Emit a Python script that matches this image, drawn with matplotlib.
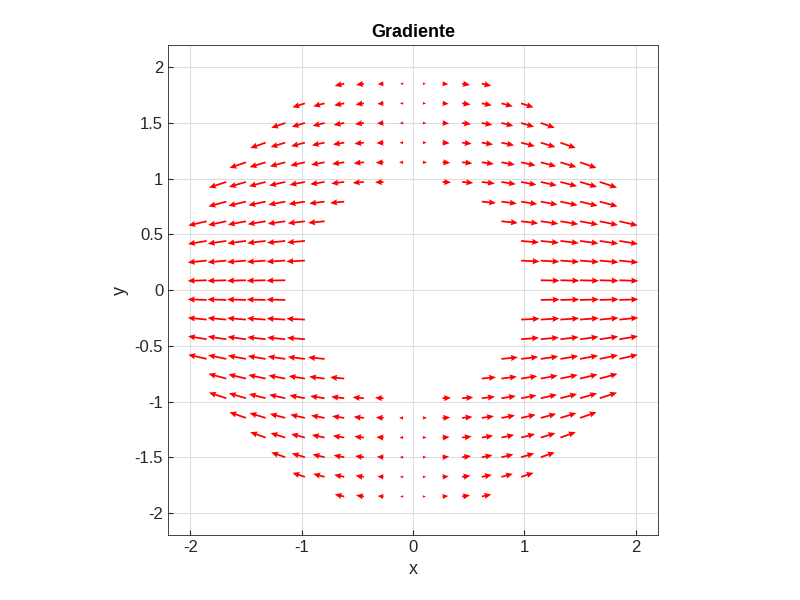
import numpy as np
import matplotlib
matplotlib.use("Agg")
import matplotlib.pyplot as plt

plt.rcParams['font.family'] = ['Liberation Sans', 'DejaVu Sans']

step = 3 / 17
grid = (np.arange(-11, 11) + 0.5) * step
X, Y = np.meshgrid(grid, grid)
R = np.sqrt(X**2 + Y**2)
mask = (R > 1) & (R < 2)
Xs, Ys, Rs = X[mask], Y[mask], R[mask]
U = np.sign(Xs) * (np.abs(Xs) / Rs) ** 0.6
V = -0.2 * np.abs(Xs) * Ys * np.abs(U)

fig = plt.figure(figsize=(8, 6), dpi=100)
ax = fig.add_axes([0.21, 0.108, 0.6125, 0.817])
k = 0.17
ax.quiver(Xs, Ys, U * k, V * k, color='red', angles='xy',
          scale_units='xy', scale=1, width=0.0036, headwidth=3.5,
          headlength=4, headaxislength=3.6, minlength=0.3)
ax.set_xlim(-2.2, 2.2)
ax.set_ylim(-2.2, 2.2)
ax.set_xticks([-2, -1, 0, 1, 2])
ax.set_yticks([-2, -1.5, -1, -0.5, 0, 0.5, 1, 1.5, 2])
ax.set_yticklabels(['-2', '-1.5', '-1', '-0.5', '0', '0.5', '1', '1.5', '2'])
ax.set_xticklabels(['-2', '-1', '0', '1', '2'])
ax.grid(True, color='#dddddd', linewidth=0.8)
ax.set_axisbelow(True)
ax.tick_params(labelsize=12, direction='in', color='#262626', labelcolor='#262626')
for s in ax.spines.values():
    s.set_color('#262626'); s.set_linewidth(0.6)
ax.set_xlabel('x', fontsize=13, color='#262626')
ax.set_ylabel('y', fontsize=13, color='#262626')
ax.set_title('Gradiente', fontsize=13, fontweight='bold')
fig.savefig('out.png')
